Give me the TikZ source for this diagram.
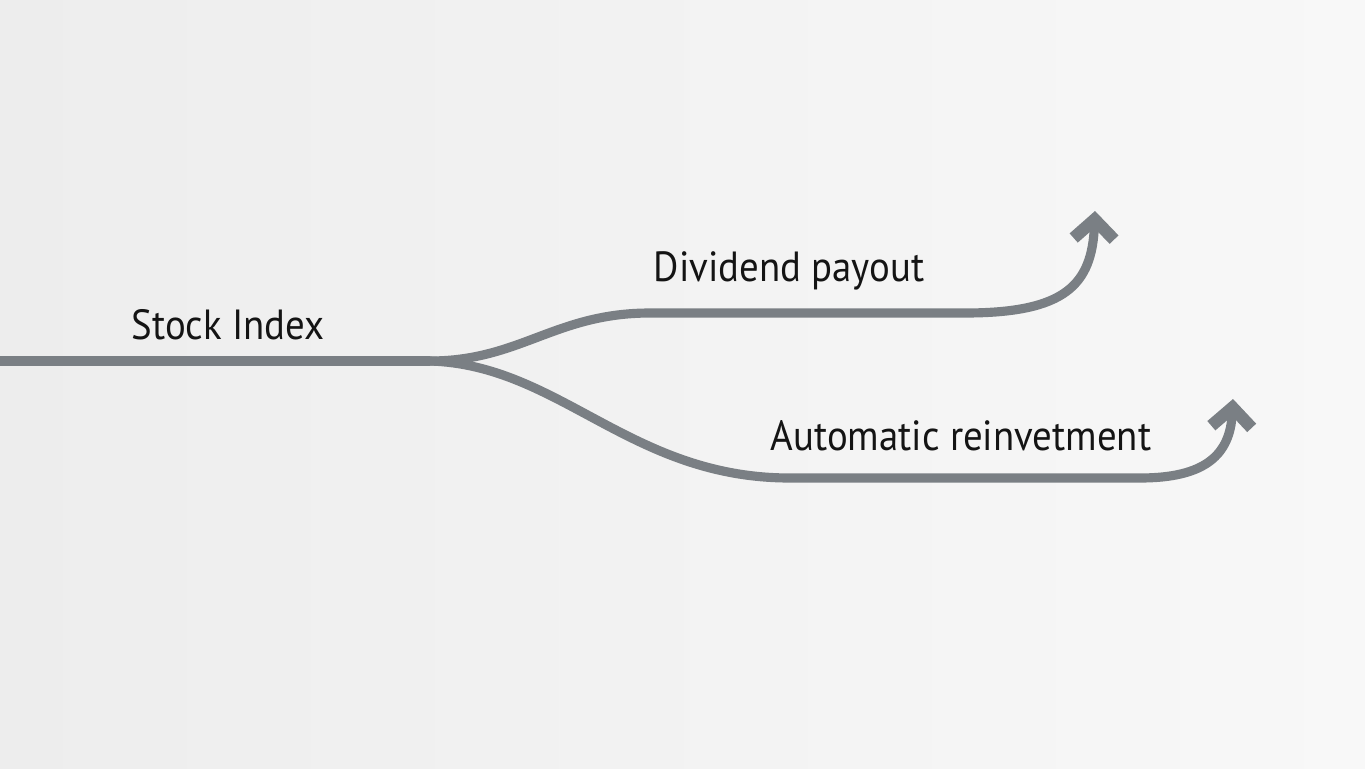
\documentclass[tikz,border=0pt]{standalone}
\usepackage{fontspec}
\setmainfont[FakeStretch=0.92]{PT Sans}
\usetikzlibrary{arrows.meta}
\definecolor{flowgray}{HTML}{7A7F84}
\definecolor{bgleft}{HTML}{EDEDED}
\definecolor{bgright}{HTML}{F8F8F8}
\tikzset{flow/.style={draw=flowgray,line width=5.2pt,line cap=butt,-{Straight Barb[length=11pt,width=23pt,line width=7pt]}},
 trunk/.style={draw=flowgray,line width=5.2pt},
 lbl/.style={font=\fontsize{24}{28}\selectfont,text=black!92}}
\begin{document}
\begin{tikzpicture}[x=.02cm,y=-.02cm]
 \shade[left color=bgleft,right color=bgright] (0,0) rectangle (1365,768);
 \useasboundingbox (0,0) rectangle (1365,768);
 \coordinate (start) at (0,361);\coordinate (fork) at (430,361);
 \coordinate (upA) at (650,313);\coordinate (upB) at (965,313);\coordinate (upEnd) at (1095,211);
 \coordinate (loA) at (790,478);\coordinate (loB) at (1140,478);\coordinate (loEnd) at (1233,399);
 \draw[trunk] (start)--(fork);
 \draw[flow] (fork) .. controls (520,361) and (555,313) .. (upA)--(upB) .. controls (1065,313) and (1092,285) .. (upEnd);
 \draw[flow] (fork) .. controls (560,365) and (630,478) .. (loA)--(loB) .. controls (1205,478) and (1230,455) .. (loEnd);
 \node[lbl] (index) at (228,325) {Stock Index};
 \node[lbl] (payout) at (789,271) {Dividend payout};
 \node[lbl] (reinvest) at (961,436) {Automatic reinvetment};
\end{tikzpicture}
\end{document}
